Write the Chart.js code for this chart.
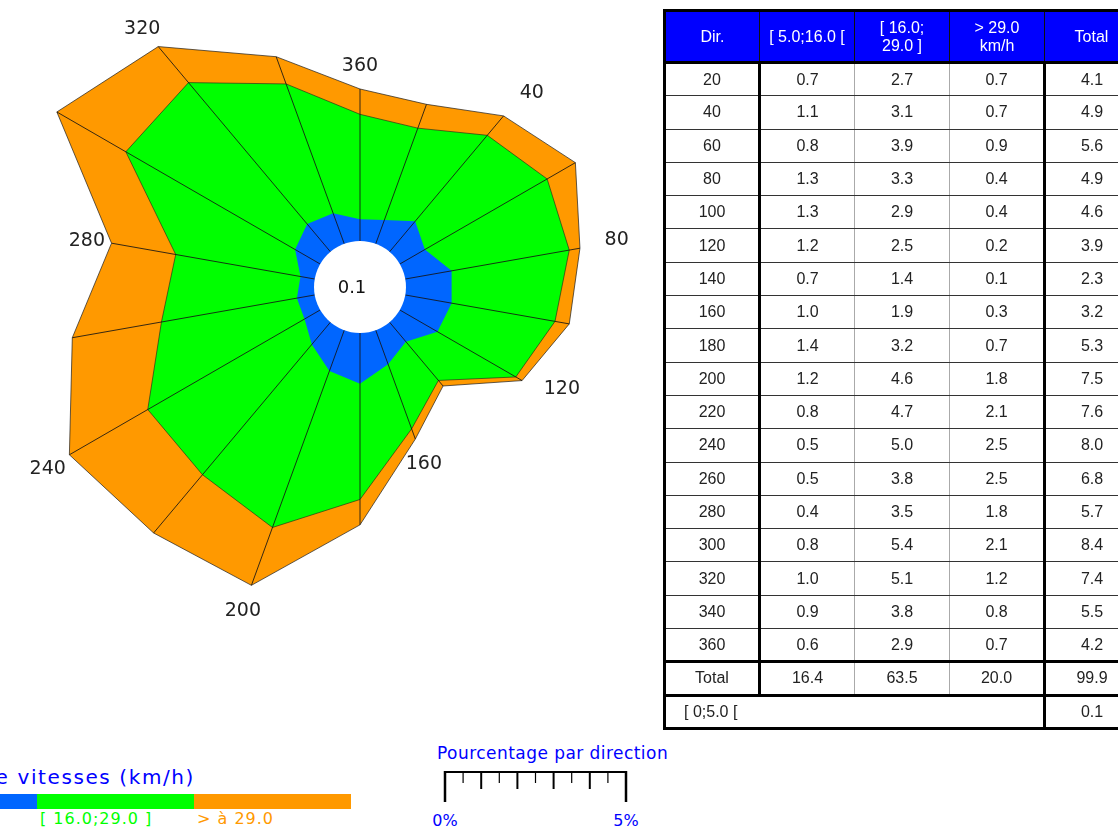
<!DOCTYPE html>
<html lang="fr">
<head>
<meta charset="utf-8">
<title>Rose des vents</title>
<script src="https://cdn.jsdelivr.net/npm/chart.js@4.4.1/dist/chart.umd.min.js"></script>
<style>
  html, body { margin: 0; padding: 0; background: #fff; overflow: hidden; }
  body { width: 1118px; height: 829px; position: relative; }
  #rose { position: absolute; left: -2px; top: -75px; }
  #tbl {
    position: absolute; left: 663px; top: 9px; width: 478px;
    border-collapse: collapse; table-layout: fixed; border: 3px solid #000;
    font-family: "Liberation Sans", Arial, sans-serif; font-size: 16px; color: #222;
  }
  #tbl th {
    background: #0000ff; color: #fff; font-weight: normal; line-height: 18px;
    padding: 0; border: 1px solid #111; border-bottom: 3px solid #000;
  }
  #tbl tr.head { height: 52px; }
  #tbl tr.row { height: 33.3px; }
  #tbl td {
    padding: 0; text-align: center;
    border-top: 1px solid #333; border-bottom: 1px solid #333;
    border-left: 1px solid #aaa; border-right: 1px solid #aaa;
  }
  #tbl .dir { border-right: 3px solid #000; }
  #tbl .tot { border-left: 3px solid #000; }
  #tbl tr.sum td { border-top: 3px solid #000; border-bottom: 3px solid #000; }
  #tbl td.calm { text-align: left; padding-left: 18px; }
  .txt { position: absolute; white-space: nowrap; font-family: "DejaVu Sans", sans-serif; }
  #legTitle { right: 923px; top: 765px; font-size: 20px; line-height: 24px; letter-spacing: 1.6px; color: #0000ff; }
  #pctTitle { left: 437px; top: 743px; font-size: 17px; line-height: 20px; letter-spacing: 0.45px; color: #0000ff; }
  .seg { position: absolute; top: 794px; height: 15px; }
  .segLbl { top: 809px; font-size: 16px; line-height: 19px; letter-spacing: 1px; }
  .pctLbl { top: 811px; font-size: 16px; line-height: 19px; color: #0000ff; transform: translateX(-50%); }
  #ruler { position: absolute; left: 0; top: 740px; }
</style>
</head>
<body>
<canvas id="rose" width="724" height="724"></canvas>
<table id="tbl"></table>
<div id="legend"></div>
<div class="txt" id="pctTitle">Pourcentage par direction</div>
<svg id="ruler" width="700" height="89"></svg>

<script>
// directions (degrés) et pourcentages par classe de vitesse
const dirs = [20, 40, 60, 80, 100, 120, 140, 160, 180, 200, 220, 240, 260, 280, 300, 320, 340, 360];
const lowSpeed = [0.7, 1.1, 0.8, 1.3, 1.3, 1.2, 0.7, 1.0, 1.4, 1.2, 0.8, 0.5, 0.5, 0.4, 0.8, 1.0, 0.9, 0.6];
const midSpeed = [2.7, 3.1, 3.9, 3.3, 2.9, 2.5, 1.4, 1.9, 3.2, 4.6, 4.7, 5.0, 3.8, 3.5, 5.4, 5.1, 3.8, 2.9];
const highSpeed = [0.7, 0.7, 0.9, 0.4, 0.4, 0.2, 0.1, 0.3, 0.7, 1.8, 2.1, 2.5, 2.5, 1.8, 2.1, 1.2, 0.8, 0.7];
const totals = [4.1, 4.9, 5.6, 4.9, 4.6, 3.9, 2.3, 3.2, 5.3, 7.5, 7.6, 8.0, 6.8, 5.7, 8.4, 7.4, 5.5, 4.2];
const classTotals = [16.4, 63.5, 20.0];
const grandTotal = 99.9;
const calm = 0.1;
const calmLabel = "[ 0;5.0 [";
const labeledDirs = [40, 80, 120, 160, 200, 240, 280, 320, 360];

const headers = ["Dir.", "[ 5.0;16.0 [", "[ 16.0;\n29.0 ]", "> 29.0\nkm/h", "Total"];
const classLabels = ["[ 5.0;16.0 [", "[ 16.0;29.0 ]", "> à 29.0"];
const classColors = ["#0066ff", "#00ff00", "#ff9900"];
const pctTicks = ["0%", "5%"];

// cumulated radii for the stacked rose
const cumLow = lowSpeed.slice();
const cumMid = lowSpeed.map((v, i) => v + midSpeed[i]);

//Plugin: rays, calm circle and direction labels
const roseDecor = {
  id: "roseDecor",
  afterDatasetsDraw(chart) {
    const ctx = chart.ctx;
    const scale = chart.scales.r;
    ctx.save();

    ctx.strokeStyle = "rgba(20,20,20,0.85)";
    ctx.lineWidth = 1;
    dirs.forEach((d, i) => {
      const a = scale.getPointPositionForValue(i, 0);
      const b = scale.getPointPositionForValue(i, totals[i]);
      ctx.beginPath();
      ctx.moveTo(a.x, a.y);
      ctx.lineTo(b.x, b.y);
      ctx.stroke();
    });

    // calm hole
    const r0 = scale.getDistanceFromCenterForValue(0);
    ctx.fillStyle = "#fff";
    ctx.beginPath();
    ctx.arc(scale.xCenter, scale.yCenter, r0, 0, Math.PI * 2);
    ctx.fill();
    ctx.fillStyle = "#111";
    ctx.font = '18px "DejaVu Sans"';
    ctx.textAlign = "center";
    ctx.textBaseline = "middle";
    ctx.fillText(calm.toFixed(1), scale.xCenter - 8, scale.yCenter + 1);

    // direction labels just outside the outer vertex
    ctx.font = '19px "DejaVu Sans"';
    ctx.fillStyle = "#222";
    dirs.forEach((d, i) => {
      if (!labeledDirs.includes(d)) return;
      const dist = scale.getDistanceFromCenterForValue(totals[i]) + 25;
      const p = scale.getPointPosition(i, dist);
      const s = Math.sin(scale.getIndexAngle(i));
      if (s > 0.5) {
        ctx.textAlign = "left";
        ctx.textBaseline = "alphabetic";
        ctx.fillText(String(d), p.x, p.y + 1);
      } else {
        ctx.textAlign = "center";
        ctx.textBaseline = "middle";
        ctx.fillText(String(d), p.x, p.y + 2);
      }
    });
    ctx.restore();
  },
};

new Chart(document.getElementById("rose").getContext("2d"), {
  type: "radar",
  data: {
    labels: dirs.map(String),
    datasets: [
      {
        label: classLabels[0],
        data: cumLow,
        backgroundColor: classColors[0],
        borderColor: "rgba(0,0,0,0)",
        borderWidth: 1,
        fill: "start",
      },
      {
        label: classLabels[1],
        data: cumMid,
        backgroundColor: classColors[1],
        borderColor: "rgba(30,30,30,0.6)",
        borderWidth: 1,
        fill: "start",
      },
      {
        label: classLabels[2],
        data: totals,
        backgroundColor: classColors[2],
        borderColor: "rgba(30,30,30,0.7)",
        borderWidth: 1,
        fill: "start",
      },
    ],
  },
  options: {
    responsive: false,
    animation: false,
    plugins: { legend: { display: false }, tooltip: { enabled: false } },
    elements: { point: { radius: 0, hoverRadius: 0 }, line: { tension: 0 } },
    scales: {
      r: {
        min: -1.27,
        max: 8.73,
        startAngle: 20,
        ticks: { display: false },
        grid: { display: false },
        angleLines: { display: false },
        pointLabels: { display: false },
      },
    },
  },
  plugins: [roseDecor],
});

// table
const tbl = document.getElementById("tbl");
let html = "<colgroup>" + headers.map(() => '<col style="width:95px">').join("") + "</colgroup>";
html += '<tr class="head">' + headers.map((h) => "<th>" + h.replace("&", "&amp;").replace(">", "&gt;").replace("\n", "<br>") + "</th>").join("") + "</tr>";
dirs.forEach((d, i) => {
  html += '<tr class="row"><td class="dir">' + d + "</td><td>" + lowSpeed[i].toFixed(1) + "</td><td>" +
    midSpeed[i].toFixed(1) + "</td><td>" + highSpeed[i].toFixed(1) + '</td><td class="tot">' + totals[i].toFixed(1) + "</td></tr>";
});
html += '<tr class="row sum"><td class="dir">Total</td>' + classTotals.map((v) => "<td>" + v.toFixed(1) + "</td>").join("") +
  '<td class="tot">' + grandTotal.toFixed(1) + "</td></tr>";
html += '<tr class="row"><td class="calm" colspan="4">' + calmLabel + '</td><td class="tot">' + calm.toFixed(1) + "</td></tr>";
tbl.innerHTML = html;

// speed classes legend
const legend = document.getElementById("legend");
let lg = '<div class="txt" id="legTitle">Classes de vitesses (km/h)</div>';
classLabels.forEach((lbl, k) => {
  const x = -120 + k * 157;
  lg += '<div class="seg" style="left:' + x + "px;width:157px;background:" + classColors[k] + '"></div>';
  lg += '<div class="txt segLbl" style="left:' + (x + 3) + "px;color:" + classColors[k] + '">' + lbl.replace(">", "&gt;") + "</div>";
});
legend.innerHTML = lg;

// percentage ruler (5% = 181px, same as the rose)
const svg = document.getElementById("ruler");
let sv = '<line x1="445" y1="32" x2="626" y2="32" stroke="#000" stroke-width="2"/>';
for (let k = 0; k <= 10; k++) {
  const x = 445 + k * 18.1;
  const end = k === 0 || k === 10 ? 62 : k % 2 === 0 ? 49 : 43;
  const w = k === 0 || k === 10 ? 2.5 : k % 2 === 0 ? 2 : 1.2;
  sv += '<line x1="' + x + '" y1="31" x2="' + x + '" y2="' + end + '" stroke="#000" stroke-width="' + w + '"/>';
}
svg.innerHTML = sv;
pctTicks.forEach((t, k) => {
  const d = document.createElement("div");
  d.className = "txt pctLbl";
  d.style.left = 445 + k * 181 + "px";
  d.textContent = t;
  document.body.appendChild(d);
});
</script>
</body>
</html>
